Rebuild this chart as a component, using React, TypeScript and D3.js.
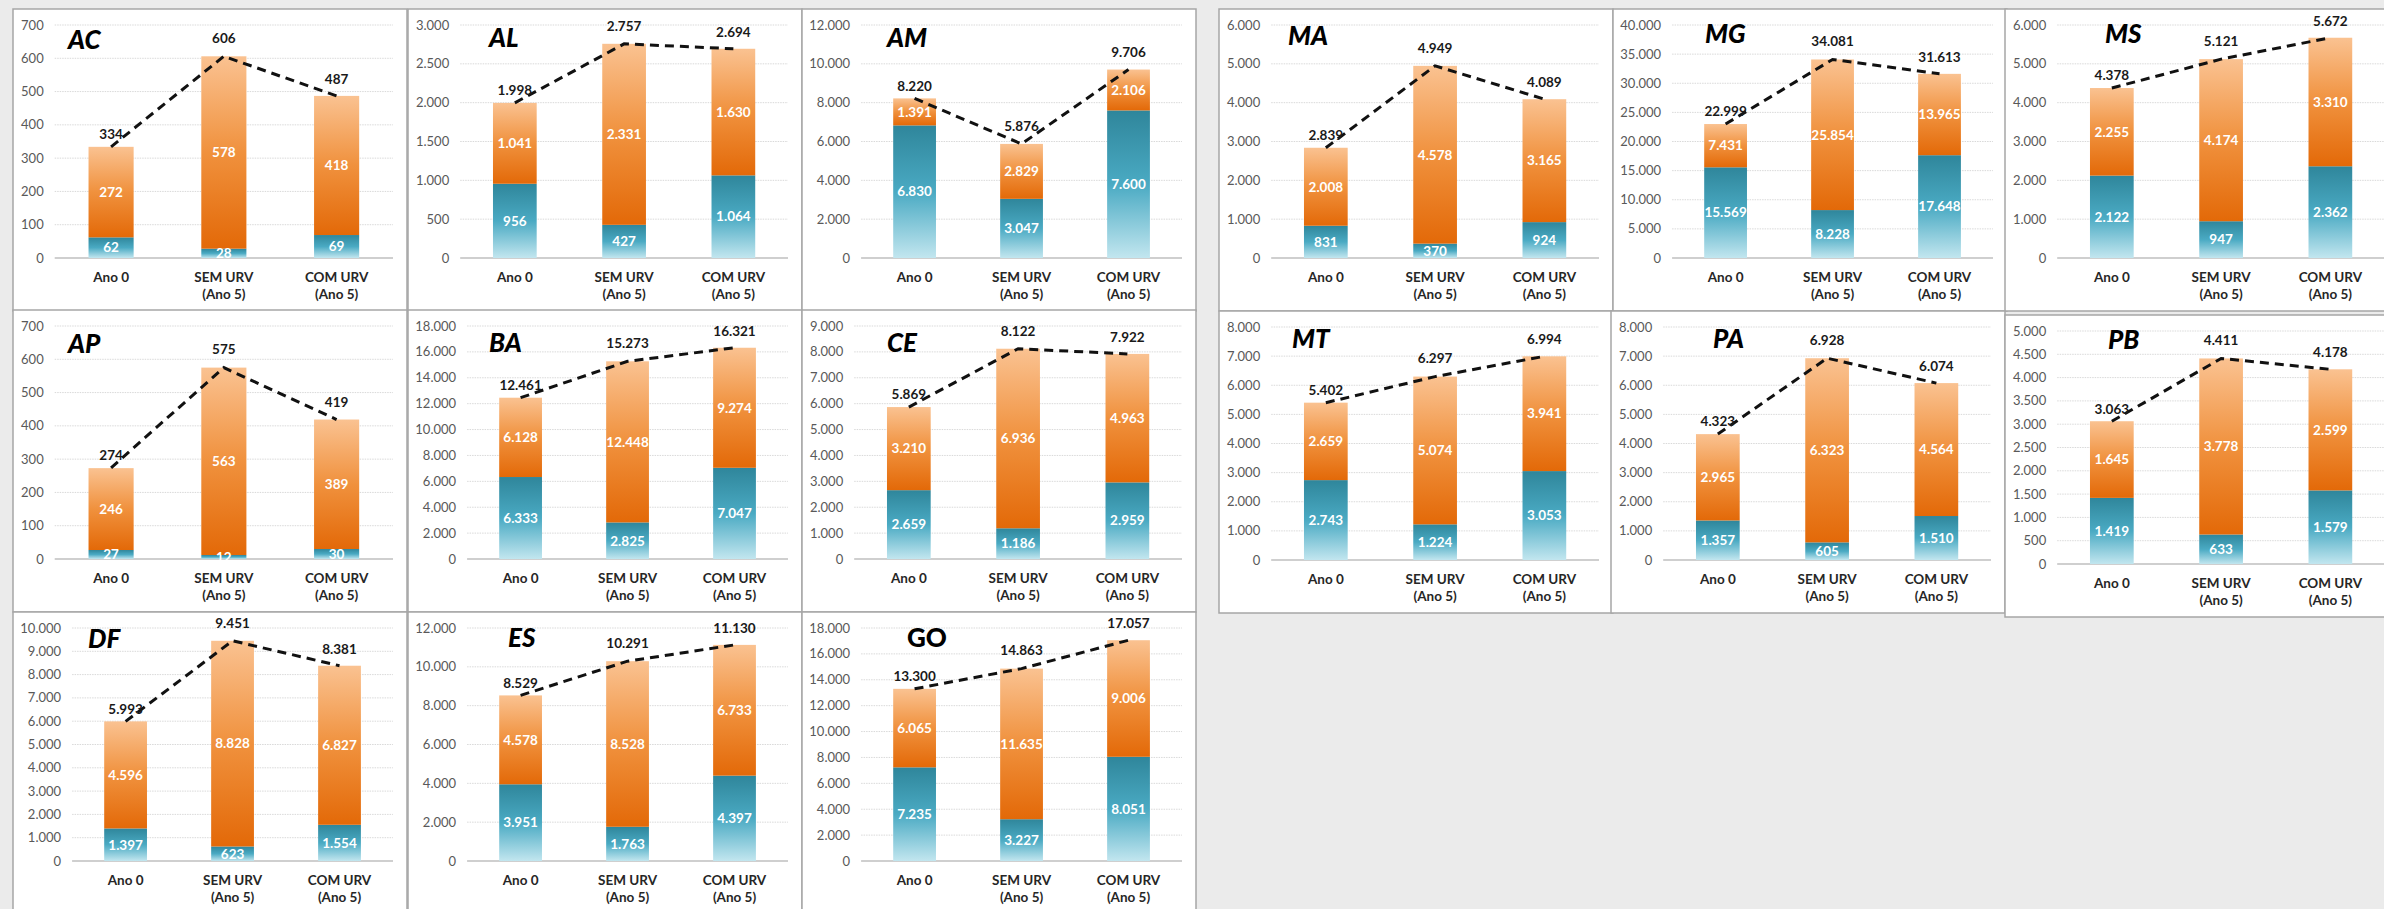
import React from "react";
import * as d3 from "d3";

// categories (x axis), second line of label is optional
const categories = [["Ano 0"], ["SEM URV", "(Ano 5)"], ["COM URV", "(Ano 5)"]];

const states = ["AC", "AL", "AM", "AP", "BA", "CE", "DF", "ES", "GO", "MA", "MG", "MS", "MT", "PA", "PB"];

// y axis max and tick step for each state
const yMax = [700, 3000, 12000, 700, 18000, 9000, 10000, 12000, 18000, 6000, 40000, 6000, 8000, 8000, 5000];
const yStep = [100, 500, 2000, 100, 2000, 1000, 1000, 2000, 2000, 1000, 5000, 1000, 1000, 1000, 500];

// bottom (teal) segment per category
const tealValues = [
  [62, 28, 69],
  [956, 427, 1064],
  [6830, 3047, 7600],
  [27, 12, 30],
  [6333, 2825, 7047],
  [2659, 1186, 2959],
  [1397, 623, 1554],
  [3951, 1763, 4397],
  [7235, 3227, 8051],
  [831, 370, 924],
  [15569, 8228, 17648],
  [2122, 947, 2362],
  [2743, 1224, 3053],
  [1357, 605, 1510],
  [1419, 633, 1579],
];

// top (orange) segment per category
const orangeValues = [
  [272, 578, 418],
  [1041, 2331, 1630],
  [1391, 2829, 2106],
  [246, 563, 389],
  [6128, 12448, 9274],
  [3210, 6936, 4963],
  [4596, 8828, 6827],
  [4578, 8528, 6733],
  [6065, 11635, 9006],
  [2008, 4578, 3165],
  [7431, 25854, 13965],
  [2255, 4174, 3310],
  [2659, 5074, 3941],
  [2965, 6323, 4564],
  [1645, 3778, 2599],
];

// totals (dashed line)
const totalValues = [
  [334, 606, 487],
  [1998, 2757, 2694],
  [8220, 5876, 9706],
  [274, 575, 419],
  [12461, 15273, 16321],
  [5869, 8122, 7922],
  [5993, 9451, 8381],
  [8529, 10291, 11130],
  [13300, 14863, 17057],
  [2839, 4949, 4089],
  [22999, 34081, 31613],
  [4378, 5121, 5672],
  [5402, 6297, 6994],
  [4323, 6928, 6074],
  [3063, 4411, 4178],
];

// layout of the panels on the page
const panelX = [13, 408, 802, 13, 408, 802, 13, 408, 802, 1219, 1613, 2005, 1219, 1611, 2005];
const panelY = [9, 9, 9, 310, 310, 310, 612, 612, 612, 9, 9, 9, 311, 311, 315];
const titleX = [55, 81, 85, 55, 81, 85, 75, 100, 105, 69, 92, 100, 73, 102, 103];
const titleY = [40, 38, 38, 43, 42, 42, 36, 35, 35, 36, 34, 34, 37, 37, 34];

const W = 2384;
const H = 909;
const PW = 394;
const PH = 302;
const PLOT_TOP = 16;
const PLOT_BOTTOM = 249;
const PLOT_RIGHT = 380;
const totalOffset = [12.5, 18, 17];

const FONT = "Lato, 'Open Sans', sans-serif";

const fmt = d3
  .formatLocale({ decimal: ",", thousands: ".", grouping: [3], currency: ["", ""] })
  .format(",");

const labelWidth = (s: string) => s.split("").reduce((w, c) => w + (c === "." ? 3.6 : 6.9), 0);

function Panel({ idx }: { idx: number }) {
  const ticks = d3.range(0, yMax[idx] + yStep[idx] / 2, yStep[idx]);
  const left = 9 + (d3.max(ticks.map(fmt), labelWidth) as number) + 12;
  const x = d3.scaleBand<number>().domain([0, 1, 2]).range([left, PLOT_RIGHT]).paddingInner(0.6).paddingOuter(0.3);
  const y = d3.scaleLinear().domain([0, yMax[idx]]).range([PLOT_BOTTOM, PLOT_TOP]);

  const rows = [0, 1, 2].map((i) => ({ teal: tealValues[idx][i], orange: orangeValues[idx][i] }));
  const series = d3.stack<{ teal: number; orange: number }>().keys(["teal", "orange"])(rows);

  const cx = (i: number) => (x(i) as number) + x.bandwidth() / 2;
  const line = d3
    .line<number>()
    .x((_, i) => cx(i))
    .y((d) => y(d));

  const italic = states[idx] !== "GO";

  return (
    <g transform={`translate(${panelX[idx]},${panelY[idx]})`}>
      <rect x={0} y={0} width={PW} height={PH} fill="#ffffff" stroke="#a6a6a6" strokeWidth={1.5} />
      {ticks.slice(1).map((t) => (
        <line key={t} x1={left} x2={PLOT_RIGHT} y1={y(t)} y2={y(t)} stroke="#d9d9d9" strokeWidth={1} strokeDasharray="1.5,1" />
      ))}
      <line x1={left} x2={PLOT_RIGHT} y1={y(0)} y2={y(0)} stroke="#bfbfbf" strokeWidth={1.5} />
      {ticks.map((t) => (
        <text key={t} x={left - 11} y={y(t) + 4.5} textAnchor="end" fontSize={13} fill="#595959" fontFamily={FONT}>
          {fmt(t)}
        </text>
      ))}
      {series.map((s) =>
        s.map((d, i) => (
          <rect
            key={s.key + i}
            x={x(i)}
            width={x.bandwidth()}
            y={y(d[1])}
            height={y(d[0]) - y(d[1])}
            fill={s.key === "teal" ? "url(#gTeal)" : "url(#gOrange)"}
          />
        ))
      )}
      {series.map((s) =>
        s.map((d, i) => (
          <text
            key={"l" + s.key + i}
            x={cx(i)}
            y={y((d[0] + d[1]) / 2) + 4.8}
            textAnchor="middle"
            fontSize={13.5}
            fontWeight="bold"
            fill="#ffffff"
            fontFamily={FONT}
          >
            {fmt(d[1] - d[0])}
          </text>
        ))
      )}
      <path d={line(totalValues[idx]) as string} fill="none" stroke="#111111" strokeWidth={3} strokeDasharray="9,6" />
      {totalValues[idx].map((v, i) => (
        <text
          key={"t" + i}
          x={cx(i)}
          y={y(v) - totalOffset[i] + 4.8}
          textAnchor="middle"
          fontSize={13.5}
          fontWeight="bold"
          fill="#1a1a1a"
          fontFamily={FONT}
        >
          {fmt(v)}
        </text>
      ))}
      {categories.map((c, i) =>
        c.map((ln, j) => (
          <text
            key={"c" + i + j}
            x={cx(i)}
            y={273 + j * 16.5}
            textAnchor="middle"
            fontSize={13.5}
            fontWeight="bold"
            fill="#262626"
            fontFamily={FONT}
          >
            {ln}
          </text>
        ))
      )}
      <text
        x={titleX[idx]}
        y={titleY[idx]}
        fontSize={26}
        fontWeight="900"
        fontStyle={italic ? "italic" : "normal"}
        fill="#000000"
        fontFamily={FONT}
      >
        {states[idx]}
      </text>
    </g>
  );
}

export default function App() {
  return (
    <svg width={W} height={H} style={{ position: "absolute", left: 0, top: 0 }}>
      <defs>
        <linearGradient id="gTeal" x1="0" y1="0" x2="0" y2="1">
          <stop offset="0" stopColor="#2f869b" />
          <stop offset="0.5" stopColor="#4aaac3" />
          <stop offset="1" stopColor="#c2e6ef" />
        </linearGradient>
        <linearGradient id="gOrange" x1="0" y1="0" x2="0" y2="1">
          <stop offset="0" stopColor="#fac291" />
          <stop offset="0.5" stopColor="#f0913d" />
          <stop offset="1" stopColor="#e36908" />
        </linearGradient>
      </defs>
      <rect x={0} y={0} width={W} height={H} fill="#ebebeb" />
      {states.map((_, i) => (
        <Panel key={i} idx={i} />
      ))}
    </svg>
  );
}
